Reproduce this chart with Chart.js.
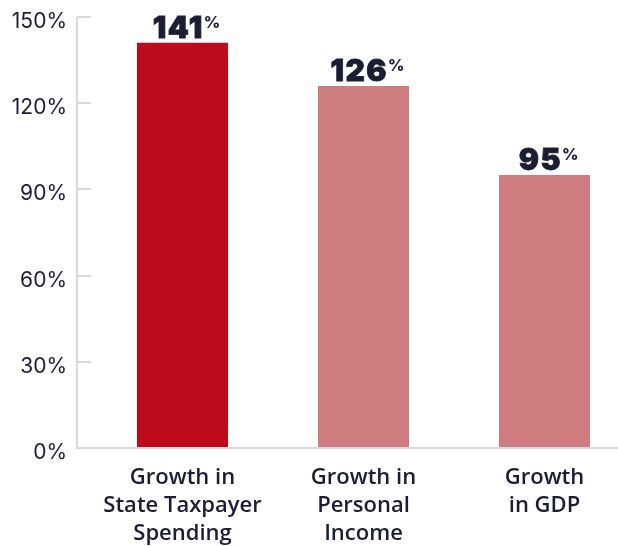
<!DOCTYPE html>
<html><head><meta charset="utf-8">
<script src="https://cdn.jsdelivr.net/npm/chart.js@4"></script>
<style>html,body{margin:0;padding:0;background:#fff;}#wrap{width:618px;height:546px;}</style>
</head><body><div id="wrap"><canvas id="c" width="618" height="546"></canvas></div>
<script>
const categories = [["Growth in","State Taxpayer","Spending"],["Growth in","Personal","Income"],["Growth","in GDP"]];
const values = [141, 126, 95];
const barColors = ["#BE0B1C", "#CF7C80", "#CF7C80"];
const yTicks = [0, 30, 60, 90, 120, 150];
const textColor = '#1b1e33';
const axisColor = '#d9d9d9';
const AXIS_X = 77;

const shiftX = {
  id: 'shiftX',
  afterLayout(chart) {
    const x = chart.scales.x;
    x.left = 92; x.right = 635; x.width = 543;
    x.configure();
    chart.chartArea.right = 635; chart.chartArea.width = 543;
  }
};
const axisPlugin = {
  id: 'axisPlugin',
  afterDraw(chart) {
    const y = chart.scales.y, ctx = chart.ctx;
    const top = Math.round(y.getPixelForValue(150)), bottom = Math.round(y.getPixelForValue(0));
    ctx.save();
    ctx.strokeStyle = axisColor; ctx.lineWidth = 2;
    ctx.beginPath(); ctx.moveTo(AXIS_X, top); ctx.lineTo(AXIS_X, bottom); ctx.lineTo(chart.width, bottom); ctx.stroke();
    ctx.fillStyle = textColor; ctx.font = '400 21px Inter';
    ctx.textAlign = 'right'; ctx.textBaseline = 'middle';
    yTicks.forEach(v => {
      const py = Math.round(y.getPixelForValue(v));
      if (v !== 0) { ctx.beginPath(); ctx.moveTo(AXIS_X, py); ctx.lineTo(AXIS_X + 14, py); ctx.stroke(); }
      ctx.fillText(v + '%', AXIS_X - 10, py + 5);
    });
    ctx.restore();
  }
};
const valueLabels = {
  id: 'valueLabels',
  afterDatasetsDraw(chart) {
    const ctx = chart.ctx, meta = chart.getDatasetMeta(0);
    ctx.save();
    ctx.fillStyle = textColor;
    meta.data.forEach((bar, i) => {
      const num = String(values[i]);
      ctx.letterSpacing = '1.5px';
      ctx.font = '900 30px Inter';
      const w1 = ctx.measureText(num).width;
      ctx.letterSpacing = '0px';
      ctx.font = '800 16px Inter';
      const w2 = ctx.measureText('%').width;
      const x0 = bar.x - (w1 + w2) / 2 + 4;
      const base = bar.y - 5;
      ctx.textBaseline = 'alphabetic'; ctx.textAlign = 'left';
      ctx.letterSpacing = '1.5px';
      ctx.font = '900 30px Inter';
      ctx.fillText(num, x0, base);
      ctx.strokeStyle = textColor; ctx.lineWidth = 0.8;
      ctx.strokeText(num, x0, base);
      ctx.letterSpacing = '0px';
      ctx.font = '800 16px Inter';
      ctx.fillText('%', x0 + w1, base - 10);
    });
    ctx.restore();
  }
};

new Chart(document.getElementById('c'), {
  type: 'bar',
  data: { labels: categories, datasets: [{ data: values, backgroundColor: barColors, barPercentage: 0.503, categoryPercentage: 1 }] },
  options: {
    responsive: false, animation: false, devicePixelRatio: 1,
    layout: { padding: { top: 17, right: 0, left: 0, bottom: 0 } },
    plugins: { legend: { display: false }, tooltip: { enabled: false } },
    scales: {
      x: {
        grid: { display: false },
        border: { display: false },
        ticks: { color: textColor, font: { family: 'Open Sans', size: 22, weight: '600', lineHeight: 1.26 }, padding: 8, maxRotation: 0, autoSkip: false },
        afterFit(s) { s.height = 98; }
      },
      y: {
        min: 0, max: 150,
        afterBuildTicks(s) { s.ticks = yTicks.map(v => ({ value: v })); },
        grid: { display: false },
        border: { display: false },
        ticks: { display: false },
        afterFit(s) { s.width = 92; }
      }
    }
  },
  plugins: [shiftX, axisPlugin, valueLabels]
});
</script></body></html>
